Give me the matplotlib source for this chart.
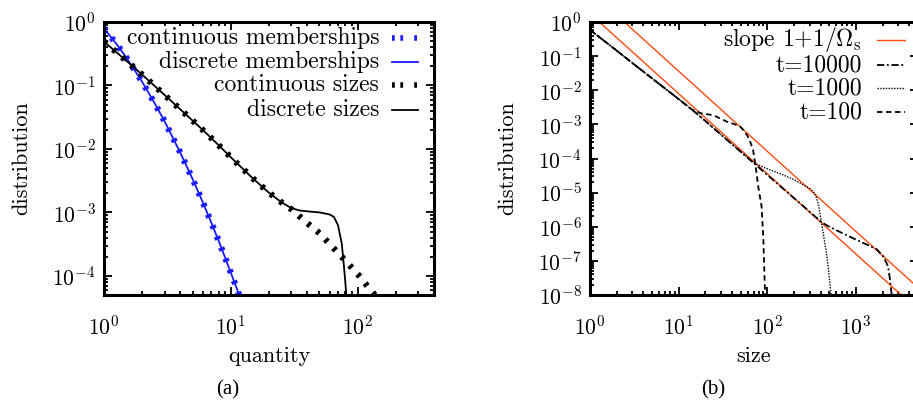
import numpy as np
import matplotlib
matplotlib.use("Agg")
import matplotlib.pyplot as plt

plt.rcParams["font.family"] = ["cmr10"]
plt.rcParams["mathtext.fontset"] = "cm"
plt.rcParams["axes.formatter.use_mathtext"] = True
plt.rcParams["font.size"] = 16

# ---- panel (a): quantity distributions ----
memb_x = [1, 1.25, 1.5, 2, 2.5, 3, 4, 5, 6, 7, 8, 9, 10, 11, 12]
memb_disc_y = [0.79, 0.455, 0.275, 0.114, 0.053, 0.0274, 0.0087, 0.00334,
               0.00146, 7.0e-4, 3.6e-4, 1.96e-4, 1.12e-4, 6.8e-5, 4.2e-5]
memb_cont_y = [0.79, 0.455, 0.275, 0.114, 0.053, 0.0274, 0.0087, 0.00334,
               0.00146, 7.0e-4, 3.6e-4, 1.96e-4, 1.12e-4, 6.8e-5, 4.2e-5]

size_disc_x = [1, 1.5, 2, 3, 4, 6, 8, 10, 15, 20, 25, 30, 35, 40, 50, 60,
               65, 70, 75, 78, 80, 82]
size_disc_y = [0.49, 0.245, 0.148, 0.071, 0.042, 0.020, 0.0115, 0.0074,
               0.0034, 0.00204, 0.00145, 0.00117, 0.00107, 0.00104, 0.00100,
               0.00093, 0.00085, 0.00063, 0.00032, 0.00014, 7.9e-5, 4.0e-5]

size_cont_x = [1, 1.5, 2, 3, 4, 6, 8, 10, 15, 20, 25, 30, 40, 50, 60, 80,
               100, 120, 140]
size_cont_y = [0.49, 0.245, 0.148, 0.071, 0.042, 0.020, 0.0115, 0.0074,
               0.0034, 0.00204, 0.00145, 0.00112, 6.8e-4, 4.7e-4, 3.2e-4,
               1.74e-4, 1.07e-4, 6.8e-5, 4.7e-5]

labels_a = ["continuous memberships", "discrete memberships",
            "continuous sizes", "discrete sizes"]

# ---- panel (b): size distribution at different times ----
base_x = [1, 2, 3, 5, 10, 14]
base_y = [0.589, 0.145, 0.063, 0.0224, 0.0055, 0.00275]

t100_x = base_x + [18, 24.6, 35, 49, 56, 60, 65, 69, 74, 79, 86, 90, 93, 95]
t100_y = base_y + [2.1e-3, 1.86e-3, 1.2e-3, 8.9e-4, 6.0e-4, 4.5e-4, 2.8e-4,
                   1.78e-4, 5.6e-5, 1.48e-5, 4.0e-6, 5.0e-7, 3.2e-8, 6.3e-9]

mid_x = [20, 30, 50, 70]
mid_y = [0.00126, 5.0e-4, 1.58e-4, 7.4e-5]

t1000_x = base_x + mid_x + [100, 139, 200, 302, 344, 375, 400, 427, 460,
                            486, 521, 540]
t1000_y = base_y + mid_y + [5.0e-5, 3.6e-5, 2.4e-5, 1.32e-5, 9.5e-6, 4.8e-6,
                            1.78e-6, 6.3e-7, 2.0e-7, 6.6e-8, 1.12e-8, 3.2e-9]

t10000_x = base_x + mid_x + [100, 150, 200, 300, 415, 500, 718, 1000, 1400,
                             1707, 2000, 2200, 2307, 2400, 2513, 2600]
t10000_y = base_y + mid_y + [3.3e-5, 1.32e-5, 6.9e-6, 2.75e-6, 1.32e-6,
                             1.0e-6, 6.3e-7, 4.2e-7, 2.8e-7, 2.2e-7, 1.41e-7,
                             8.9e-8, 6.6e-8, 3.2e-8, 1.12e-8, 4e-9]

slope_x = [1, 5000]
slope1_y = [1.77, 3.6e-9]
slope2_y = [8.1, 1.65e-8]

labels_b = [r"slope $1{+}1/\mathbf{\Omega}_{\rm s}$", "t=10000", "t=1000", "t=100"]

ORANGE = "#ff4a10"
BLUE = "#1a1aff"
THICK_DOTS = dict(lw=4.5, ls=(0, (0.55, 1.35)), dash_capstyle="butt")

W, H = 913, 404
fig = plt.figure(figsize=(W / 100, H / 100), dpi=100)


def px_axes(left, top, right, bottom):
    return fig.add_axes([left / W, 1 - bottom / H, (right - left) / W, (bottom - top) / H])


def style(ax):
    ax.set_xscale("log")
    ax.set_yscale("log")
    for s in ax.spines.values():
        s.set_linewidth(2.2)
    ax.tick_params(which="both", direction="in", top=True, right=True, width=1.3,
                   labelsize=15.5)
    ax.tick_params(which="major", length=6)
    ax.tick_params(axis="x", which="major", pad=14)
    ax.tick_params(axis="y", which="major", pad=6)
    ax.tick_params(which="minor", length=3)
    ax.xaxis.set_major_locator(matplotlib.ticker.LogLocator(base=10, numticks=20))
    ax.yaxis.set_major_locator(matplotlib.ticker.LogLocator(base=10, numticks=20))
    ax.xaxis.set_minor_locator(matplotlib.ticker.LogLocator(base=10, subs=np.arange(2, 10), numticks=20))
    ax.yaxis.set_minor_locator(matplotlib.ticker.LogLocator(base=10, subs=np.arange(2, 10), numticks=20))
    ax.xaxis.set_minor_formatter(matplotlib.ticker.NullFormatter())
    ax.yaxis.set_minor_formatter(matplotlib.ticker.NullFormatter())


def legend_row(text, y, tx, x0, x1, **kw):
    fig.text(tx / W, 1 - y / H, text, ha="right", va="center", fontsize=17)
    fig.add_artist(plt.Line2D([x0 / W, x1 / W], [1 - y / H, 1 - y / H],
                              transform=fig.transFigure, **kw))


# panel (a)
ax1 = px_axes(104, 22, 434, 295)
style(ax1)
ax1.plot(memb_x, memb_disc_y, color=BLUE, lw=1.3)
ax1.plot(memb_x, memb_cont_y, color=BLUE, **THICK_DOTS)
ax1.plot(size_disc_x, size_disc_y, color="black", lw=1.3)
ax1.plot(size_cont_x, size_cont_y, color="black", **THICK_DOTS)
ax1.set_xlim(1, 400)
ax1.set_ylim(5e-5, 1)
ax1.set_xlabel("quantity", labelpad=6)
ax1.set_ylabel("distribution", labelpad=15)

legend_row(labels_a[0], 38, 379, 392, 418, color=BLUE, lw=4, ls=(0, (0.5, 1.0, 0.5, 2.0)), dash_capstyle="butt")
legend_row(labels_a[1], 62, 379, 392, 418, color=BLUE, lw=1.3)
legend_row(labels_a[2], 85, 379, 392, 418, color="black", lw=4, ls=(0, (0.5, 1.0, 0.5, 2.0)), dash_capstyle="butt")
legend_row(labels_a[3], 110, 379, 392, 418, color="black", lw=1.3)

# panel (b)
ax2 = px_axes(590, 22, 918, 295)
style(ax2)
ax2.plot(slope_x, slope1_y, color=ORANGE, lw=1.0)
ax2.plot(slope_x, slope2_y, color=ORANGE, lw=1.0)
ax2.plot(t100_x, t100_y, color="black", lw=1.3, ls=(0, (3, 2)))
ax2.plot(t1000_x, t1000_y, color="black", lw=1.0, ls=(0, (1, 1)))
ax2.plot(t10000_x, t10000_y, color="black", lw=1.3, ls=(0, (4, 1.5, 1, 1.5)))
ax2.set_xlim(1, 5000)
ax2.set_ylim(1e-8, 1)
ax2.set_xlabel("size", labelpad=6)
ax2.set_ylabel("distribution", labelpad=15)

legend_row(labels_b[0], 40, 862, 877, 905, color=ORANGE, lw=1.0)
legend_row(labels_b[1], 65, 862, 877, 905, color="black", lw=1.3, ls=(0, (4, 1.5, 1, 1.5)))
legend_row(labels_b[2], 88, 862, 877, 905, color="black", lw=1.0, ls=(0, (1, 1)))
legend_row(labels_b[3], 112, 862, 877, 905, color="black", lw=1.3, ls=(0, (3, 2)))

fig.text(228 / W, 1 - 390 / H, "(a)", ha="center", va="center", fontsize=15, family="Liberation Serif")
fig.text(713 / W, 1 - 390 / H, "(b)", ha="center", va="center", fontsize=15, family="Liberation Serif")

fig.savefig("out.png", dpi=100)
